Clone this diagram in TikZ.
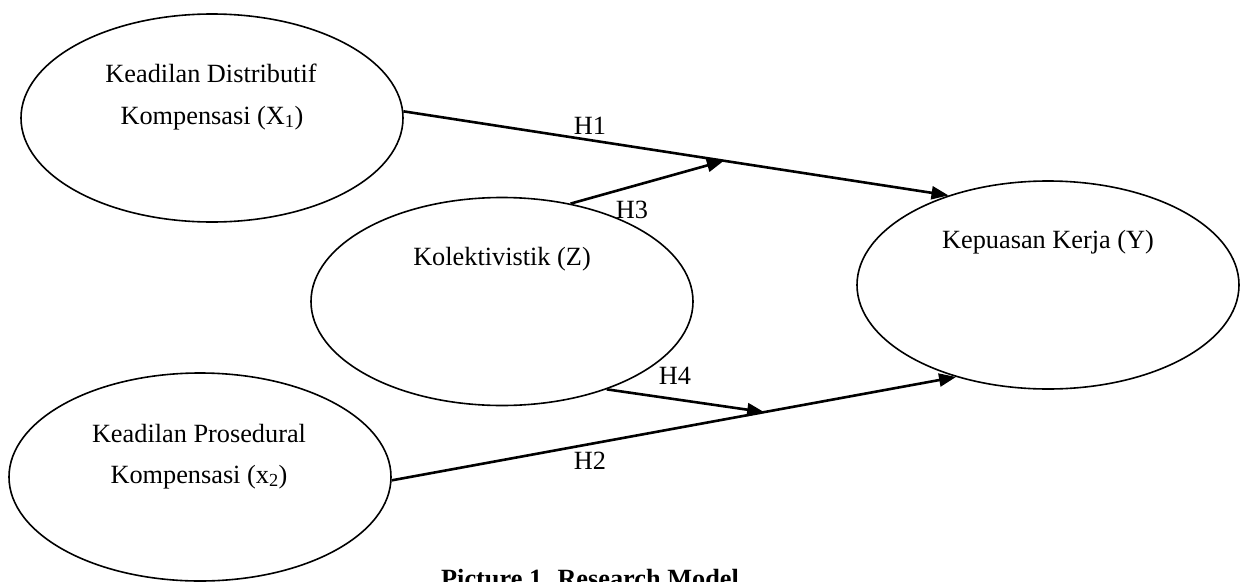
\documentclass[tikz,border=0pt]{standalone}
\usepackage{fontspec}
\setmainfont{Liberation Serif}
\usetikzlibrary{arrows.meta,calc,shapes.geometric}
\begin{document}
\begin{tikzpicture}[x=1pt,y=-1pt,
  every node/.style={font=\fontsize{26.3}{31}\selectfont, inner sep=0pt},
  oval/.style={draw=black, ellipse, line width=1.6pt, minimum width=382pt, minimum height=208pt},
  txt/.style={anchor=base},
  link/.style={line width=2.6pt, -{Triangle[length=17pt,width=13pt]}}]
\useasboundingbox (0,0) rectangle (1242,581);
\clip (0,0) rectangle (1242,581);
% ellipses
\node[oval] (X1) at (212,118) {};
\node[oval] (X2) at (200,477) {};
\node[oval] (Z) at (502,301.5) {};
\node[oval] (Y) at (1048,285) {};
% texts
\node[txt] (x1a) at (211,82) {Keadilan Distributif};
\node[txt] (x1b) at (212,124) {Kompensasi (X\textsubscript{1})};
\node[txt] (x2a) at (199,442) {Keadilan Prosedural};
\node[txt] (x2b) at (199,483) {Kompensasi (x\textsubscript{2})};
\node[txt] (zt) at (502,265) {Kolektivistik (Z)};
\node[txt] (yt) at (1048,248) {Kepuasan Kerja (Y)};
% main paths
\coordinate (s1) at (X1.2);
\coordinate (e1) at (Y.138);
\coordinate (s2) at (X2.-1);
\coordinate (e2) at (Y.225);
\draw[link] (s1) -- (e1);
\draw[link] (s2) -- (e2);
\coordinate (m1) at ($(s1)!0.588!(e1)$);
\coordinate (m2) at ($(s2)!0.66!(e2)$);
\draw[link] (Z.55.6) -- (m1);
\draw[link] (Z.-40) -- (m2);
% labels
\node[txt] (h1) at (590,134) {H1};
\node[txt] (h3) at (632,218) {H3};
\node[txt] (h4) at (675,384) {H4};
\node[txt] (h2) at (590,469) {H2};
\node[txt, font=\fontsize{26.3}{31}\selectfont\bfseries] (cap) at (590,587) {Picture 1. Research Model};
\end{tikzpicture}
\end{document}
